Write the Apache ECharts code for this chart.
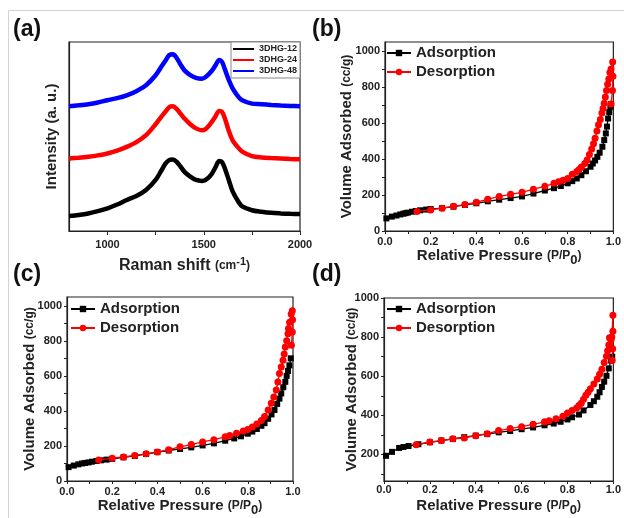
<!DOCTYPE html>
<html><head><meta charset="utf-8">
<script src="https://cdn.jsdelivr.net/npm/echarts@6/dist/echarts.min.js"></script>
<style>html,body{margin:0;padding:0;background:#fff}#c{width:624px;height:518px}</style>
</head><body><div id="c"></div>
<script>
// ---------- DATA ----------
// (a) Raman spectra
const ramanShift = [800,850,900,950,1000,1050,1100,1150,1200,1250,1280,1300,1320,1340,1360,1380,1400,1430,1460,1490,1510,1540,1560,1580,1595,1610,1630,1650,1680,1700,1750,1800,1850,1900,1950,2000];
const int12 = [7.9,8.5,9.3,10.5,12,14,16.4,18.5,21.7,27,32,35.5,37.5,37.8,36.5,34,31.3,28.8,27,26.5,27,30,33.5,37,36.5,33,27,21,15.5,13,11,10.2,9.6,9.3,9.1,9.0];
const int24 = [38.4,38.8,39.3,40,41,42.5,44.5,47,50.7,56.5,60.5,63,65.5,66,64.5,62,59.5,56.5,54.3,53.3,54,57.5,60.5,63.5,63,59.5,53,48,44,42,39.6,38.9,38.6,38.4,38.1,37.9];
const int48 = [66,66.5,67.1,68,69.2,70.3,71.8,74,77.1,82.4,87,90,93,93.5,91.5,88,85,82.5,81,80.6,81.5,84.5,87.5,90.5,89.5,85.5,80,75.5,71,69.2,67.4,67.1,66.7,66.4,66.2,66];
const ramanNames = ['3DHG-12','3DHG-24','3DHG-48'];
const ramanLabels = [1000,1500,2000];
const ramanTicks = [1000,1250,1500,1750,2000];

// (b) isotherm
const adsB_P = [0.006,0.03,0.05,0.067,0.08,0.09,0.1,0.118,0.135,0.154,0.18,0.2,0.25,0.3,0.35,0.4,0.45,0.5,0.55,0.6,0.65,0.7,0.74,0.77,0.8,0.82,0.84,0.86,0.88,0.9,0.91,0.92,0.93,0.94,0.952,0.96,0.967,0.972,0.977,0.982,0.987,0.99];
const adsB_V = [70,80,86,92,96,99,102,107,111,115,119,122,127,135,145,154,165,174,183,192,208,225,238,250,265,277,292,310,332,357,375,392,412,435,468,505,542,580,625,660,690,705];
const desB_P = [0.99,0.996,0.998,0.997,0.99,0.985,0.98,0.975,0.97,0.965,0.96,0.955,0.95,0.943,0.935,0.928,0.92,0.913,0.905,0.895,0.885,0.875,0.86,0.85,0.84,0.82,0.8,0.78,0.76,0.74,0.7,0.65,0.6,0.55,0.5,0.45,0.4,0.35,0.3,0.25,0.2,0.14];
const desB_V = [705,780,860,939,900,880,845,815,780,745,710,680,655,620,590,555,515,485,455,425,395,375,355,342,330,315,292,282,273,265,248,232,215,204,192,176,160,147,137,127,117,109];

// (c) isotherm
const adsC_P = [0.007,0.03,0.05,0.066,0.08,0.095,0.11,0.13,0.15,0.175,0.2,0.25,0.3,0.35,0.4,0.45,0.5,0.55,0.6,0.65,0.7,0.74,0.77,0.8,0.82,0.84,0.86,0.874,0.89,0.905,0.918,0.93,0.94,0.948,0.957,0.966,0.972,0.978,0.984,0.99];
const adsC_V = [79,88,95,100,103,106,110,114,118,122,126,135,143,154,165,174,183,192,203,215,230,243,255,270,282,297,315,330,355,380,405,440,470,500,535,566,600,628,660,700];
const desC_P = [0.993,0.997,0.998,0.997,0.992,0.985,0.98,0.978,0.972,0.966,0.961,0.956,0.948,0.94,0.933,0.926,0.915,0.904,0.89,0.874,0.86,0.84,0.82,0.8,0.78,0.75,0.72,0.7,0.65,0.6,0.55,0.5,0.45,0.4,0.35,0.3,0.25,0.2,0.14];
const desC_V = [775,850,920,972,953,906,870,840,800,764,725,689,650,613,565,519,480,443,405,368,345,325,308,294,285,272,260,252,236,223,208,195,179,165,155,146,137,130,120];

// (d) isotherm
const adsD_P = [0.009,0.035,0.066,0.085,0.107,0.15,0.2,0.25,0.3,0.35,0.4,0.45,0.5,0.55,0.6,0.65,0.7,0.74,0.77,0.8,0.82,0.85,0.87,0.9,0.915,0.93,0.94,0.95,0.96,0.97,0.98,0.99,0.995];
const adsD_V = [193,213,233,238,243,252,262,271,279,288,296,304,313,320,329,338,349,358,367,379,390,404,425,453,472,495,518,545,572,602,640,680,700];
const desD_P = [0.995,0.997,0.998,0.998,0.993,0.99,0.983,0.98,0.975,0.97,0.96,0.95,0.94,0.93,0.915,0.9,0.89,0.88,0.87,0.86,0.85,0.84,0.82,0.8,0.78,0.75,0.72,0.7,0.65,0.6,0.55,0.5,0.45,0.4,0.35,0.3,0.25,0.2,0.14];
const desD_V = [680,740,830,912,800,785,797,760,730,702,670,636,610,586,560,536,518,503,482,462,450,437,425,412,395,382,372,367,354,342,332,322,306,296,284,280,271,263,250];

const pLabels = [0,0.2,0.4,0.6,0.8,1.0];
const pTicks = [0,0.1,0.2,0.3,0.4,0.5,0.6,0.7,0.8,0.9,1.0];
const vLabels = [0,200,400,600,800,1000];
const vLabelsD = [200,400,600,800,1000];
const vTicks = [0,100,200,300,400,500,600,700,800,900,1000];
const vTicksD = [100,200,300,400,500,600,700,800,900,1000];
const panelTags = ['(a)','(b)','(c)','(d)'];

// ---------- CHART ----------
const F = '"Liberation Sans", Arial, sans-serif';
const AX = '#222';
const pair = (xs, ys) => xs.map((x, i) => [x, ys[i]]);

const xNameP = '{n|Relative Pressure }{s|(P/P}{sub|0}{s|)}';
const yNameV = '{n|Volume Adsorbed }{s|(cc/g)}';
const richN = {
  n: {fontSize: 15, fontWeight: 'bold', fontFamily: F, color: AX},
  s: {fontSize: 12, fontWeight: 'bold', fontFamily: F, color: AX},
  sub: {fontSize: 13, fontWeight: 'bold', fontFamily: F, color: AX, padding: [9, 0, 0, 0]},
  sup: {fontSize: 11, fontWeight: 'bold', fontFamily: F, color: AX, padding: [0, 0, 8, 0]}
};

function pAxis(gi, margin, gap) {
  return {
    type: 'value', gridIndex: gi, min: 0, max: 1,
    axisLine: {lineStyle: {color: AX, width: 1.2}},
    axisTick: {customValues: pTicks, length: 3, lineStyle: {color: AX}},
    axisLabel: {customValues: pLabels, formatter: v => v.toFixed(1), fontSize: 11, fontWeight: 'bold', fontFamily: F, color: AX, margin: margin},
    splitLine: {show: false},
    name: xNameP, nameLocation: 'middle', nameGap: gap, nameMoveOverlap: false,
    nameTextStyle: {rich: richN}
  };
}
function vAxis(gi, min, max, labels, ticks, gap) {
  return {
    type: 'value', gridIndex: gi, min: min, max: max,
    axisLine: {show: true, lineStyle: {color: AX, width: 1.2}},
    axisTick: {show: true, customValues: ticks, length: 3, lineStyle: {color: AX}},
    axisLabel: {customValues: labels, formatter: v => String(v), fontSize: 11, fontWeight: 'bold', fontFamily: F, color: AX, margin: 5},
    splitLine: {show: false},
    name: yNameV, nameLocation: 'middle', nameGap: gap, nameRotate: 90, nameMoveOverlap: false,
    nameTextStyle: {rich: richN}
  };
}
function iso(name, gi, data, isAds) {
  return {
    type: 'line', name: name, xAxisIndex: gi, yAxisIndex: gi, data: data,
    symbol: isAds ? 'rect' : 'circle', symbolSize: isAds ? 6 : 7,
    lineStyle: {width: 1.3, color: isAds ? '#000' : '#ff0000'},
    itemStyle: {color: isAds ? '#000' : '#ff0000'},
    z: isAds ? 2 : 3, animation: false
  };
}
function isoLegend(left, top) {
  return {
    data: ['Adsorption', 'Desorption'], left: left, top: top, orient: 'vertical',
    itemWidth: 24, itemHeight: 8, itemGap: 3, padding: 0,
    textStyle: {fontSize: 15, fontWeight: 'bold', fontFamily: F, color: AX, lineHeight: 16}
  };
}

const chart = echarts.init(document.getElementById('c'), null, {renderer: 'canvas'});
chart.setOption({
  animation: false,
  backgroundColor: '#fff',
  grid: [
    {left: 69, top: 42, width: 231, height: 189, show: true, borderColor: AX, borderWidth: 1.2},
    {left: 385, top: 42, width: 231, height: 189, show: true, borderColor: AX, borderWidth: 1.2},
    {left: 67, top: 297, width: 226, height: 186, show: true, borderColor: AX, borderWidth: 1.2},
    {left: 384, top: 298, width: 231, height: 189, show: true, borderColor: AX, borderWidth: 1.2}
  ],
  xAxis: [
    {
      type: 'value', gridIndex: 0, min: 800, max: 2000,
      axisLine: {lineStyle: {color: AX, width: 1.2}},
      axisTick: {customValues: ramanTicks, length: 4, lineStyle: {color: AX}},
      axisLabel: {customValues: ramanLabels, formatter: v => String(v), fontSize: 11, fontWeight: 'bold', fontFamily: F, color: AX, margin: 8},
      splitLine: {show: false},
      name: '{n|Raman shift }{s|(cm}{sup|-1}{s|)}', nameLocation: 'middle', nameGap: 25, nameMoveOverlap: false,
      nameTextStyle: {rich: {
        n: {fontSize: 16, fontWeight: 'bold', fontFamily: F, color: AX},
        s: {fontSize: 12, fontWeight: 'bold', fontFamily: F, color: AX},
        sup: {fontSize: 11, fontWeight: 'bold', fontFamily: F, color: AX, padding: [0, 0, 9, 0]}
      }}
    },
    pAxis(1, 5, 14), pAxis(2, 5, 14), pAxis(3, 3, 14)
  ],
  yAxis: [
    {
      type: 'value', gridIndex: 0, min: 0, max: 100,
      axisLine: {show: true, lineStyle: {color: AX, width: 1.2}},
      axisTick: {show: false}, axisLabel: {show: false}, splitLine: {show: false},
      name: 'Intensity (a. u.)', nameLocation: 'middle', nameGap: 10, nameRotate: 90, nameMoveOverlap: false,
      nameTextStyle: {fontSize: 15, fontWeight: 'bold', fontFamily: F, color: AX}
    },
    vAxis(1, 0, 1050, vLabels, vTicks, 31),
    vAxis(2, 0, 1050, vLabels, vTicks, 30),
    vAxis(3, 64, 1000, vLabelsD, vTicksD, 25)
  ],
  legend: [
    {
      data: ramanNames, left: 231, top: 42, orient: 'vertical', icon: 'rect',
      itemWidth: 21, itemHeight: 2, itemGap: 1, padding: [2, 3, 2, 2],
      borderColor: '#888', borderWidth: 1, backgroundColor: '#fff',
      textStyle: {fontSize: 9, fontWeight: 'bold', fontFamily: F, color: AX, lineHeight: 10}
    },
    isoLegend(386, 45), isoLegend(70, 301), isoLegend(386, 301)
  ],
  series: [
    {type: 'line', name: ramanNames[0], xAxisIndex: 0, yAxisIndex: 0, data: pair(ramanShift, int12), showSymbol: false, smooth: 0.3, lineStyle: {width: 4.5, color: '#000'}, itemStyle: {color: '#000'}},
    {type: 'line', name: ramanNames[1], xAxisIndex: 0, yAxisIndex: 0, data: pair(ramanShift, int24), showSymbol: false, smooth: 0.3, lineStyle: {width: 4.5, color: '#ff0000'}, itemStyle: {color: '#ff0000'}},
    {type: 'line', name: ramanNames[2], xAxisIndex: 0, yAxisIndex: 0, data: pair(ramanShift, int48), showSymbol: false, smooth: 0.3, lineStyle: {width: 4.5, color: '#0000ff'}, itemStyle: {color: '#0000ff'}},
    iso('Adsorption', 1, pair(adsB_P, adsB_V), true),
    iso('Desorption', 1, pair(desB_P, desB_V), false),
    iso('Adsorption', 2, pair(adsC_P, adsC_V), true),
    iso('Desorption', 2, pair(desC_P, desC_V), false),
    iso('Adsorption', 3, pair(adsD_P, adsD_V), true),
    iso('Desorption', 3, pair(desD_P, desD_V), false)
  ],
  graphic: [
    {type: 'line', shape: {x1: 8.5, y1: 10.5, x2: 624, y2: 10.5}, style: {stroke: '#d4d4d4', lineWidth: 1}},
    {type: 'line', shape: {x1: 8.5, y1: 10.5, x2: 8.5, y2: 518}, style: {stroke: '#d4d4d4', lineWidth: 1}},
    {type: 'text', left: 13, top: 18, style: {text: panelTags[0], fontSize: 23, fontWeight: 'bold', fontFamily: F, fill: '#111'}},
    {type: 'text', left: 312, top: 18, style: {text: panelTags[1], fontSize: 23, fontWeight: 'bold', fontFamily: F, fill: '#111'}},
    {type: 'text', left: 13, top: 263, style: {text: panelTags[2], fontSize: 23, fontWeight: 'bold', fontFamily: F, fill: '#111'}},
    {type: 'text', left: 312, top: 263, style: {text: panelTags[3], fontSize: 23, fontWeight: 'bold', fontFamily: F, fill: '#111'}}
  ]
});
</script></body></html>
